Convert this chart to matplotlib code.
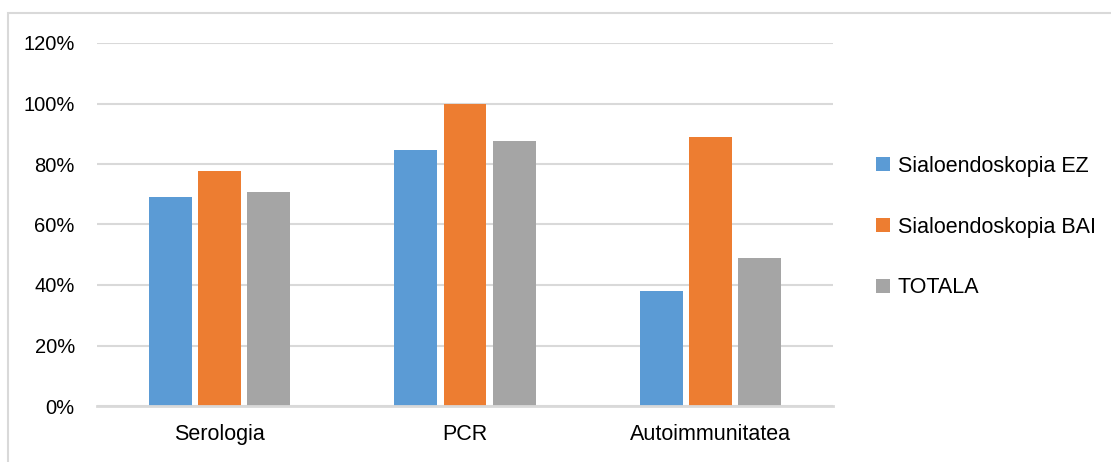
import numpy as np
import matplotlib.pyplot as plt
from matplotlib.patches import Rectangle
from matplotlib.ticker import PercentFormatter

plt.rcParams['font.family'] = ['Liberation Sans', 'DejaVu Sans']

categories = ["Serologia", "PCR", "Autoimmunitatea"]
series_names = ["Sialoendoskopia EZ", "Sialoendoskopia BAI", "TOTALA"]
ez = [0.69, 0.846, 0.38]
bai = [0.777, 1.0, 0.889]
totala = [0.706, 0.876, 0.489]
colors = ["#5B9BD5", "#ED7D31", "#A5A5A5"]

fig = plt.figure(figsize=(11.11, 4.62), dpi=100)
ax = fig.add_axes([97 / 1111, 1 - 406 / 462, (833 - 97) / 1111, (406 - 43) / 462])

# outer chart frame (cut off at right and bottom in the original)
fig.patches.append(Rectangle((8 / 1111, -0.1), 1.2, 1 - 13 / 462 + 0.1,
                             transform=fig.transFigure, fill=False,
                             edgecolor="#D9D9D9", linewidth=1.5))

x = np.arange(len(categories))
width = 0.175
step = 0.2
for i, (name, vals) in enumerate(zip(series_names, [ez, bai, totala])):
    ax.bar(x + (i - 1) * step, vals, width, color=colors[i], label=name, zorder=3)

ax.set_xlim(-0.5, len(categories) - 0.5)
ax.set_ylim(0, 1.2)
ax.set_yticks(np.arange(0, 1.21, 0.2))
ax.yaxis.set_major_formatter(PercentFormatter(1.0, decimals=0))
ax.set_xticks(x)
ax.set_xticklabels(categories)

ax.grid(axis="y", color="#D9D9D9", linewidth=1.5, zorder=0)
for s in ["top", "right", "left"]:
    ax.spines[s].set_visible(False)
ax.spines["bottom"].set_color("#D9D9D9")
ax.spines["bottom"].set_linewidth(2)
ax.spines["bottom"].set_zorder(4)
ax.tick_params(axis="both", length=0, colors="black")
ax.tick_params(axis="x", pad=13, labelsize=15.5)
ax.tick_params(axis="y", pad=16, labelsize=14.5)

fig.legend(loc="center left", bbox_to_anchor=(876 / 1111, 1 - 227 / 462),
           frameon=False, fontsize=15.5, handlelength=0.65, handleheight=0.65,
           handletextpad=0.35, labelspacing=1.85, borderpad=0, borderaxespad=0)

fig.savefig("out.png", dpi=100)
